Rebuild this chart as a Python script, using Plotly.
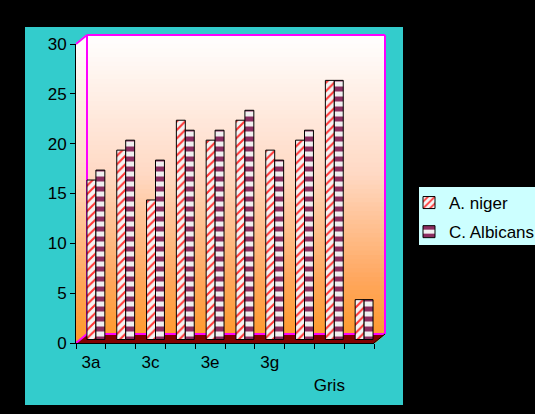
import plotly.graph_objects as go

# ---- data ----
CATEGORIES = ["3a", "3b", "3c", "3d", "3e", "3f", "3g", "3h", "Gris", "Témoin"]
TICK_TEXT = ["3a", "", "3c", "", "3e", "", "3g", "", "<br>Gris", ""]
A_NIGER = [16, 19, 14, 22, 20, 22, 19, 20, 26, 4]
C_ALBICANS = [17, 20, 18, 21, 21, 23, 18, 21, 26, 4]
Y_TICKS = [0, 5, 10, 15, 20, 25, 30]

W, H = 535, 414
L, R, T, B = 76, 374, 44, 343   # plot area in pixels
DX, DY = 11, 9                  # 3D depth offset


def X(px):
    return (px - L) / (R - L)


def Y(py):
    return (B - py) / (B - T)


FONT = "Arial, Liberation Sans, sans-serif"

# gradient for walls (white -> peach -> orange)
STOPS = [(0.0, (255, 255, 255)), (0.45, (255, 217, 196)),
         (0.8, (255, 166, 92)), (1.0, (255, 153, 40))]


def grad(t):
    for (t0, c0), (t1, c1) in zip(STOPS[:-1], STOPS[1:]):
        if t <= t1:
            f = (t - t0) / (t1 - t0) if t1 > t0 else 0
            return "rgb(%d,%d,%d)" % tuple(round(a + (b - a) * f) for a, b in zip(c0, c1))
    return "rgb(%d,%d,%d)" % STOPS[-1][1]


shapes = []
# cyan panel
shapes.append(dict(type="rect", xref="paper", yref="paper", layer="below",
                   x0=X(25), x1=X(403), y0=Y(405), y1=Y(27),
                   fillcolor="#33cccc", line=dict(width=0)))
# gradient walls
top, bot = T - DY, B
n = 70
for i in range(n):
    y0 = top + (bot - top) * i / n
    y1 = top + (bot - top) * (i + 1) / n
    shapes.append(dict(type="rect", xref="paper", yref="paper", layer="below",
                       x0=X(L), x1=X(R + DX), y0=Y(min(y1 + 2, bot)), y1=Y(y0),
                       fillcolor=grad((i + 0.5) / n), line=dict(width=0)))


def path(pts):
    return "M " + " L ".join("%f,%f" % (X(a), Y(b)) for a, b in pts) + " Z"


# cyan corners outside the 3D box
shapes.append(dict(type="path", xref="paper", yref="paper", layer="below",
                   path=path([(L - 1, T - DY - 1), (L + DX, T - DY - 1), (L - 1, T)]),
                   fillcolor="#33cccc", line=dict(width=0)))
shapes.append(dict(type="path", xref="paper", yref="paper", layer="below",
                   path=path([(R, B + 1), (R + DX + 1, B + 1), (R + DX + 1, B - DY)]),
                   fillcolor="#33cccc", line=dict(width=0)))
# floor
shapes.append(dict(type="path", xref="paper", yref="paper", layer="below",
                   path=path([(L, B), (L + DX, B - DY), (R + DX, B - DY), (R, B)]),
                   fillcolor="#800000", line=dict(width=0)))
# magenta edges
MAG = "#ff00ff"
for (x0, y0, x1, y1) in [(L, T, L + DX, T - DY), (L + DX, T - DY, R + DX, T - DY),
                         (R + DX, T - DY, R + DX, B - DY), (L + DX, T - DY, L + DX, B - DY),
                         (L + DX, B - DY, R + DX, B - DY), (L, B, L + DX, B - DY)]:
    shapes.append(dict(type="line", xref="paper", yref="paper", layer="below",
                       x0=X(x0), y0=Y(y0), x1=X(x1), y1=Y(y1),
                       line=dict(color=MAG, width=2)))
# right end of x axis (3D edge)
shapes.append(dict(type="line", xref="paper", yref="paper", layer="above",
                   x0=X(R), y0=Y(B), x1=X(R + DX), y1=Y(B - DY),
                   line=dict(color="black", width=1)))
# legend box
shapes.append(dict(type="rect", xref="paper", yref="paper", layer="below",
                   x0=X(419), x1=X(545), y0=Y(245), y1=Y(187),
                   fillcolor="#ccffff", line=dict(width=0)))

fig = go.Figure()
# invisible trace so the visible axes (x, y) get drawn
fig.add_trace(go.Scatter(x=CATEGORIES, y=[None] * len(CATEGORIES), mode="markers",
                         showlegend=False, hoverinfo="skip"))
fig.add_trace(go.Bar(
    name="A. niger", x=CATEGORIES, y=A_NIGER, xaxis="x2", yaxis="y2",
    legendgroup="a",
    marker=dict(color="#f4f4f4",
                pattern=dict(shape="/", fgcolor="#ff3333", bgcolor="#f4f4f4",
                             size=6, solidity=0.35, fillmode="replace"),
                line=dict(color="black", width=1))))
fig.add_trace(go.Bar(
    name="C. Albicans", x=CATEGORIES, y=C_ALBICANS, xaxis="x2", yaxis="y2",
    legendgroup="c",
    marker=dict(color="#f0f0f0",
                pattern=dict(shape="-", fgcolor="#8b2d60", bgcolor="#f0f0f0",
                             size=10, solidity=0.5, fillmode="replace"),
                line=dict(color="black", width=1))))

shift_x = 5 / ((R - L) / len(CATEGORIES))
shift_y = 3.5 / ((B - T) / 30)

fig.update_layout(
    width=W, height=H,
    margin=dict(l=L, r=W - R, t=T, b=H - B, autoexpand=False),
    paper_bgcolor="black", plot_bgcolor="rgba(0,0,0,0)",
    font=dict(family=FONT, size=17, color="black"),
    barmode="group", bargap=0.4, bargroupgap=0,
    shapes=shapes,
    showlegend=True,
    legend=dict(x=X(409), y=Y(185), xanchor="left", yanchor="top",
                bgcolor="rgba(0,0,0,0)", font=dict(size=17, family=FONT),
                traceorder="grouped", tracegroupgap=4, itemwidth=30),
    xaxis=dict(type="category", categoryorder="array", categoryarray=CATEGORIES,
               range=[-0.5, len(CATEGORIES) - 0.5],
               tickmode="array", tickvals=CATEGORIES, ticktext=TICK_TEXT,
               tickson="boundaries", ticks="outside", ticklen=5, tickcolor="black",
               showline=True, linecolor="black", linewidth=1, showgrid=False,
               zeroline=False, ticklabelstandoff=4, tickangle=0),
    yaxis=dict(range=[0, 30], tickvals=Y_TICKS, ticks="outside", ticklen=5,
               tickcolor="black", showline=True, linecolor="black", linewidth=1,
               showgrid=False, zeroline=False),
    xaxis2=dict(type="category", overlaying="x", categoryorder="array",
                categoryarray=CATEGORIES,
                range=[-0.5 - shift_x, len(CATEGORIES) - 0.5 - shift_x],
                visible=False),
    yaxis2=dict(overlaying="y", range=[-shift_y, 30 - shift_y], visible=False),
)

fig.write_html("out.html", config={"displayModeBar": False},
               post_script="document.body.style.margin='0';document.body.style.overflow='hidden';")
